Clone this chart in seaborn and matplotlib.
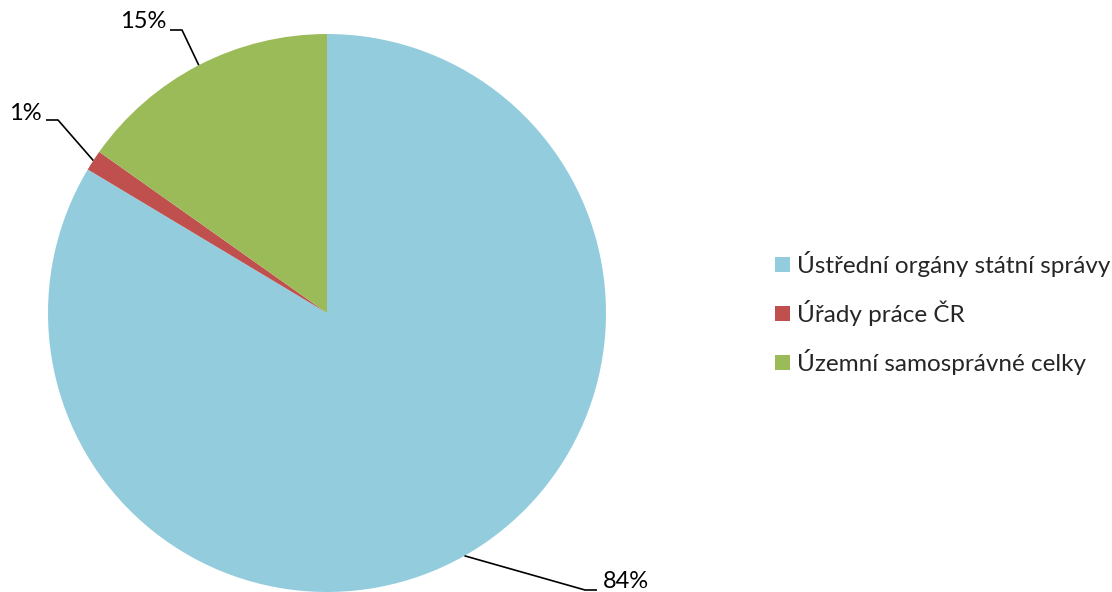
import numpy as np
import matplotlib
matplotlib.use("Agg")
import matplotlib.pyplot as plt
import seaborn as sns

categories = ["Ústřední orgány státní správy", "Úřady práce ČR", "Územní samosprávné celky"]
values = [83.6, 1.2, 15.2]
pct_labels = ["84%", "1%", "15%"]
colors = ["#93CDDD", "#C0504D", "#9BBB59"]

sns.set_theme(style="white")
plt.rcParams['font.family'] = ['Lato', 'DejaVu Sans']

W, H = 1112, 592
fig = plt.figure(figsize=(W / 100, H / 100), dpi=100)
ax = fig.add_axes([0, 0, 1, 1])

cx, cy, R = 327, 279, 279
wedges, _ = ax.pie(values, colors=colors, startangle=90, counterclock=False,
                   center=(cx, cy), radius=R, frame=True,
                   wedgeprops=dict(linewidth=0))
ax.set_xlim(0, W)
ax.set_ylim(0, H)
ax.set_aspect('equal')
ax.axis('off')

# label layout: (elbow x, elbow y, horizontal end x, text x, text y, ha)
layout = [
    (585, 2, 597, 603, 11, 'left'),
    (58, 472, 46, 42, 479, 'right'),
    (182, 562, 170, 166, 570, 'right'),
]
for w, lab, (ex, ey, hx, tx, ty, ha) in zip(wedges, pct_labels, layout):
    mid = np.deg2rad((w.theta1 + w.theta2) / 2)
    axp = cx + R * np.cos(mid)
    ayp = cy + R * np.sin(mid)
    ax.plot([axp, ex, hx], [ayp, ey, ey], color='black', lw=1.2, solid_capstyle='butt')
    ax.text(tx, ty, lab, ha=ha, va='center', fontsize=17, color='black')

from matplotlib.patches import Patch
handles = [Patch(facecolor=c, edgecolor='none') for c in colors]
leg = ax.legend(handles, categories, loc='center left', bbox_to_anchor=(775 / W, 1 - 313 / H),
                frameon=False, fontsize=17.5, handlelength=0.6, handleheight=0.6,
                handletextpad=0.3, labelspacing=0.95, borderaxespad=0, borderpad=0)

fig.savefig("out.png", dpi=100)
